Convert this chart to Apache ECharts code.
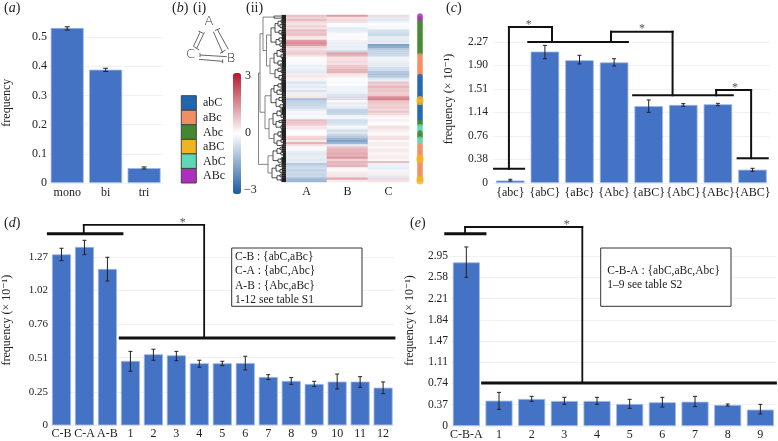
<!DOCTYPE html>
<html><head><meta charset="utf-8">
<style>html,body{margin:0;padding:0;background:#fff}#c{width:778px;height:441px}</style>
<script src="https://cdn.jsdelivr.net/npm/echarts@6/dist/echarts.min.js"></script>
</head><body><div id="c"></div>
<script>
const SERIF='"Liberation Serif","DejaVu Serif",serif';
// ---- panel a
const aCats=['mono','bi','tri'];
const aVals=[0.531,0.388,0.051];
const aLow=[0.524,0.382,0.048];
const aHigh=[0.535,0.393,0.055];
const aTicks=[0,0.1,0.2,0.3,0.4,0.5];
// ---- panel c
const cCats=['{abc}','{abC}','{aBc}','{Abc}','{aBC}','{AbC}','{ABc}','{ABC}'];
const cVals=[0.04,2.12,1.98,1.945,1.24,1.26,1.27,0.215];
const cLow=[0.032,2.005,1.92,1.887,1.14,1.237,1.247,0.189];
const cHigh=[0.06,2.22,2.06,2.005,1.34,1.28,1.285,0.237];
const cTicks=[0,0.38,0.76,1.14,1.51,1.90,2.27];
const cBrackets=[
 [[-.47,.23],[.40,.23]],
 [[-.04,.23],[-.04,2.516],[1.205,2.516],[1.205,2.274]],
 [[.52,2.274],[3.40,2.274]],
 [[2.91,2.274],[2.91,2.44],[4.69,2.44],[4.69,1.415]],
 [[3.55,1.415],[6.43,1.415]],
 [[5.95,1.415],[5.95,1.50],[6.96,1.50],[6.96,.40]],
 [[6.57,.40],[7.44,.40]]
];
// ---- panel d
const dCats=['C-B','C-A','A-B','1','2','3','4','5','6','7','8','9','10','11','12'];
const dVals=[1.29,1.346,1.18,.486,.536,.528,.468,.468,.47,.365,.335,.312,.33,.33,.284];
const dLow=[1.243,1.288,1.089,.408,.491,.488,.438,.45,.418,.345,.309,.292,.274,.287,.239];
const dHigh=[1.336,1.396,1.268,.558,.574,.558,.491,.483,.521,.382,.36,.332,.387,.367,.327];
const dTicks=[0,0.25,0.51,0.76,1.02,1.27];
const dThick=[[[-.57,1.446],[2.63,1.446]],[[2.56,.659],[14.47,.659]]];
const dThin=[[[.97,1.446],[.97,1.512],[6.21,1.512],[6.21,.659]]];
// ---- panel e
const eCats=['C-B-A','1','2','3','4','5','6','7','8','9'];
const eVals=[2.84,.44,.469,.434,.434,.382,.411,.422,.365,.284];
const eLow=[2.581,.289,.428,.376,.376,.307,.33,.336,.347,.208];
const eHigh=[3.108,.584,.515,.498,.498,.463,.498,.515,.382,.376];
const eTicks=[0,.37,.74,1.11,1.47,1.84,2.21,2.58,2.95];
const eThick=[[[-.63,3.339],[.57,3.339]],[[.50,.747],[9.46,.747]]];
const eThin=[[[-.04,3.339],[-.04,3.455],[3.55,3.455],[3.55,.747]]];
// ---- panel b heat map
const heatCols=['A','B','C'];
const heatA=[.8,.6,.85,.5,.35,.6,.4,.85,.7,.85,.35,.25,1.3,1.5,1.3,.6,.4,.6,.7,.4,.1,-.05,-.1,-.1,-.25,-.2,-.3,-.4,.25,.35,.15,-.2,-.5,-.25,-.4,-.2,-.5,-.25,.25,.35,-1.2,-.85,-.75,-.7,-.6,-.35,-.15,-.2,-.1,-.15,.85,.75,.7,.3,.35,-.1,0,.05,.5,.6,.25,1.0,.4,.1,-.1,-.3,-.4,-.35,-.3,-.4,-.35,-.95,-.75,-.6,-.85,-.7,-.75,-.7,-1.2,-1.3];
const heatB=[1.3,.4,.5,.4,0,-.1,-.35,-.35,-.2,.05,.1,.05,-.2,-.3,-.25,-.3,-.25,-.7,1.2,.95,.4,.4,.5,.4,.7,.75,.95,1.0,.35,.25,.05,-.05,-.1,-.05,-.2,-.2,-.2,-.25,-.5,-.6,.5,-.1,-.35,-.2,-.35,-.75,-.85,-.7,-.2,-.15,-.6,-.6,-.5,-.1,-.2,-.6,-.4,-.7,-.95,-1.35,-1.7,-1.3,-.35,.75,1.0,.95,1.1,1.0,1.35,.6,.95,.85,1.0,.1,.05,.25,.3,.35,1.1,.25];
const heatC=[.5,-.35,-.4,-.2,-.05,-.1,-.1,-.5,-.6,-.7,-.35,-.35,-.4,-.35,-1.7,-1.5,-.95,-.75,-.75,-.7,-.2,-.2,-.25,-.35,-.35,-.6,-.6,-1.0,-1.1,-1.0,-.5,-.25,.75,.6,.95,.7,.75,.6,.7,1.5,1.7,.75,.7,.6,.7,.5,.75,.5,.2,.1,.2,.1,0,.4,.35,.25,.1,.1,.4,.4,.1,.25,.25,-.1,.25,.25,.1,.2,.25,.1,.85,-.25,-.25,-.35,-.2,.2,-.2,-.4,.5,.4];
const legendNames=['abC','aBc','Abc','aBC','AbC','ABc'];
const legendColors=['#2166ac','#f28e63','#43882f','#f0b323','#5ed9b5','#ab2fbb'];
const sideGroups=['ABc','Abc','aBc','abC','aBC','abC','Abc','AbC','Abc','AbC','aBc','aBC','aBc','aBC'];
const sideCounts=[3,16,10,11,2,9,2,3,3,3,6,2,8,2];
const dendroTree=[27.5,
 [26,
  [23,[12,1,1],
   [19.5,
    [15,[11,[8,[5,1,1],[6,1,[4,1,1]]],[7,1,[5,1,1]]],[10,[7,[4,1,1],1],[6,1,[4,1,1]]]],
    [16,[12,[9,[6,1,1],[5,[3,1,1],1]],[8,[4,1,1],[6,1,1]]],[11,[8,1,[5,1,1]],[7,[4,1,1],[5,1,1]]]]]],
  [21,
   [15,[12,[8,[5,1,1],1],[9,[6,1,1],[4,1,1]]],[10,[7,1,[4,1,1]],[6,[3,1,1],1]]],
   [17,[13,[9,[6,1,1],[5,1,[3,1,1]]],[10,[7,1,1],[5,[4,1,1],1]]],[12,[8,[5,1,1],[6,1,1]],[9,[5,1,[3,1,1]],1]]]]],
 [18,[13,[9,[6,1,1],[5,1,[3,1,1]]],[8,[5,1,1],1]],[14,[10,[7,1,1],[6,[4,1,1],1]],[9,[6,1,1],[5,1,1]]]]
];
const triangleLines=[[600,97,580,140],[595,93,610,100],[613,97,590,145],[582,140,597,150],
 [640,95,668,158],[660,160,677,150],[653,90,685,148],[645,92,660,85],
 [600,165,680,170],[600,160,600,171],[597,178,668,184],[668,178,668,190]];

const grid=[],xAxis=[],yAxis=[],series=[],graphic=[];
const BAR='#4472c4';
function segs(paths,lw){const o=[];paths.forEach(p=>{for(let i=0;i<p.length-1;i++)o.push([p[i][0],p[i][1],p[i+1][0],p[i+1][1],lw]);});return o;}
function segRender(color){return function(params,api){
  const a=api.coord([api.value(0),api.value(1)]),b=api.coord([api.value(2),api.value(3)]);
  return {type:'line',shape:{x1:a[0],y1:a[1],x2:b[0],y2:b[1]},style:{stroke:color(api.value(4)),lineWidth:api.value(4),lineCap:'square'}};
};}
function panel(o){
  const g=grid.length, n=o.cats.length;
  grid.push({left:o.left,top:o.top,width:o.width,height:o.height});
  xAxis.push({gridIndex:g,type:'category',data:o.cats,axisLine:{show:false},axisTick:{show:false},
    axisLabel:{interval:0,margin:o.xm||5,fontFamily:SERIF,fontSize:o.xfs||12,color:'#222'}});
  const xo=xAxis.length;
  xAxis.push({gridIndex:g,type:'value',min:-.5,max:n-.5,show:false});
  const yi=yAxis.length;
  yAxis.push({gridIndex:g,type:'value',min:0,max:o.max,name:o.name,nameLocation:'middle',nameGap:o.nameGap,
    nameTextStyle:{fontFamily:SERIF,fontSize:12,color:'#222'},
    axisLine:{show:false},
    axisTick:{show:false,customValues:o.ticks},
    splitLine:{lineStyle:{color:'#f1f1f1',width:1}},
    axisLabel:{customValues:o.ticks,margin:o.ym,padding:[0,0,4,0],fontFamily:SERIF,fontSize:o.yfs||11.5,color:'#222',
      formatter:v=>v===0?'0':v.toFixed(o.dec||2)}});
  series.push({type:'bar',xAxisIndex:xo-1,yAxisIndex:yi,data:o.vals,barWidth:o.barW,silent:true,
    itemStyle:{color:BAR,borderColor:'#9db6e4',borderWidth:.8}});
  series.push({type:'custom',xAxisIndex:xo-1,yAxisIndex:yi,silent:true,z:5,
    data:o.low.map((l,i)=>[i,l,o.high[i]]),encode:{x:0,y:[1,2]},
    renderItem(params,api){
      const lo=api.coord([api.value(0),api.value(1)]),hi=api.coord([api.value(0),api.value(2)]);
      const x=lo[0],w=o.cap||2;const st={stroke:'#222',lineWidth:1};
      return {type:'group',children:[
       {type:'line',shape:{x1:x,y1:lo[1],x2:x,y2:hi[1]},style:st},
       {type:'line',shape:{x1:x-w,y1:lo[1],x2:x+w,y2:lo[1]},style:st},
       {type:'line',shape:{x1:x-w,y1:hi[1],x2:x+w,y2:hi[1]},style:st}]};
    }});
  if(o.brackets){
    series.push({type:'custom',xAxisIndex:xo,yAxisIndex:yi,silent:true,z:6,clip:false,
      data:o.brackets,encode:{x:[0,2],y:[1,3]},renderItem:segRender(()=>'#111')});
  }
}
panel({cats:aCats,vals:aVals,low:aLow,high:aHigh,ticks:aTicks,left:42.3,top:22.4,width:121,height:160.6,max:.55,barW:33,
  name:'frequency',nameGap:35,ym:1,dec:1,yfs:12,cap:2.5,xm:4});
panel({cats:cCats,vals:cVals,low:cLow,high:cHigh,ticks:cTicks,left:493,top:15,width:276.8,height:168,max:2.71,barW:28.5,
  name:'frequency (× 10⁻¹)',nameGap:38,ym:5,cap:2,brackets:segs(cBrackets,2),xm:4});
panel({cats:dCats,vals:dVals,low:dLow,high:dHigh,ticks:dTicks,left:46.6,top:215,width:348,height:210.3,max:1.587,barW:19,
  name:'frequency (× 10⁻¹)',nameGap:37,ym:2,yfs:11,cap:2,brackets:segs(dThick,3).concat(segs(dThin,1.8)),xm:3});
panel({cats:eCats,vals:eVals,low:eLow,high:eHigh,ticks:eTicks,left:450,top:215,width:326.7,height:211,max:3.663,barW:27,
  name:'frequency (× 10⁻¹)',nameGap:34,ym:2,cap:2,brackets:segs(eThick,3).concat(segs(eThin,1.8)),xm:3});

// heat map
const rows=heatA.map((_,i)=>String(i));
const hg=grid.length;
grid.push({left:286,top:15,width:123,height:167});
xAxis.push({gridIndex:hg,type:'category',data:heatCols,axisLine:{show:false},axisTick:{show:false},splitLine:{show:false},
  axisLabel:{margin:4,fontFamily:SERIF,fontSize:12,color:'#222'}});
const hy=yAxis.length;
yAxis.push({gridIndex:hg,type:'category',data:rows,inverse:true,show:false});
const heatData=[];
[heatA,heatB,heatC].forEach((col,c)=>col.forEach((v,r)=>heatData.push([c,r,v])));
const heatIdx=series.length;
series.push({type:'heatmap',xAxisIndex:xAxis.length-1,yAxisIndex:hy,data:heatData,silent:true,emphasis:{disabled:true},progressive:0});

// dendrogram
let leaf=0;const dStems=[],dLeaves=[];
const SOLID=4.5;
function layout(node){
  if(node===1){const y=leaf++;return {y,leaf:true};}
  const a=layout(node[1]),b=layout(node[2]);
  [a,b].forEach(k=>{
    if(k.leaf){
      if(node[0]>SOLID)dStems.push([node[0],k.y,SOLID,k.y,.8]);
      dLeaves.push([Math.min(node[0],SOLID),k.y,0,k.y,2.3]);
    }
    else{dStems.push([node[0],k.y,k.h,k.y,.8]);}
  });
  dStems.push([node[0],a.y,node[0],b.y,.8]);
  return {y:(a.y+b.y)/2,h:node[0]};
}
layout(dendroTree);
const dg=grid.length;
grid.push({left:257,top:15,width:29,height:167});
xAxis.push({gridIndex:dg,type:'value',min:0,max:29,inverse:true,show:false});
yAxis.push({gridIndex:dg,type:'value',min:-.5,max:leaf-.5,inverse:true,show:false});
series.push({type:'custom',xAxisIndex:xAxis.length-1,yAxisIndex:yAxis.length-1,silent:true,clip:false,
  data:dStems.concat(dLeaves),encode:{x:[0,2],y:[1,3]},
  renderItem(p,api){
    const a=api.coord([api.value(0),api.value(1)]),b=api.coord([api.value(2),api.value(3)]);const w=api.value(4);
    const dark=a[0]>270||w>1;
    return {type:'line',shape:{x1:a[0],y1:a[1],x2:b[0],y2:b[1]},style:{stroke:dark?'#222':'#666',lineWidth:w}};
  }});

// row annotation strip
const sideBase=[],sideTop=[];let ri=0;
sideGroups.forEach((g,i)=>{for(let k=0;k<sideCounts[i];k++){
  const item={value:[0,ri++],symbolSize:g==='aBC'?7:5.6,itemStyle:{color:legendColors[legendNames.indexOf(g)]}};
  (g==='aBC'?sideTop:sideBase).push(item);}});
const sg=grid.length;
grid.push({left:417,top:15,width:6,height:167});
xAxis.push({gridIndex:sg,type:'value',min:-.5,max:.5,show:false});
yAxis.push({gridIndex:sg,type:'value',min:-.5,max:ri-.5,inverse:true,show:false});
series.push({type:'scatter',xAxisIndex:xAxis.length-1,yAxisIndex:yAxis.length-1,data:sideBase.concat(sideTop),symbolSize:5.6,silent:true,clip:false});

// annotations
function plab(x,y,ch,it){
  graphic.push({type:'text',left:x,top:y-8,silent:true,style:{
    text:it?'{r|(}{i|'+ch+'}{r|)}':'('+ch+')',
    font:'14px '+SERIF,fill:'#222',
    rich:{r:{font:'14px '+SERIF,fill:'#222'},i:{font:'italic 14px '+SERIF,fill:'#222'}}}});
}
plab(4,9,'a',true);plab(172,9,'b',true);plab(193,9,'i',false);plab(246,9,'ii',false);plab(446,9,'c',true);plab(4,224,'d',true);plab(410,224,'e',true);
function txt(x,y,s,fs,extra){graphic.push({type:'text',x:x,y:y,silent:true,style:Object.assign({text:s,font:(fs||11.5)+'px '+SERIF,fill:'#222',verticalAlign:'middle',align:'left'},extra||{})});}
function star(x,y){txt(x,y,'*',12,{align:'center',fill:'#555'});}
star(528.7,25);star(642,29);star(735,88);star(182.7,223);star(566.7,225);
// boxes
function box(x1,y1,x2,y2){graphic.push({type:'rect',silent:true,shape:{x:x1,y:y1,width:x2-x1,height:y2-y1},style:{fill:'#fff',stroke:'#333',lineWidth:1},z:8});}
box(231.7,248,362,306.3);box(600.7,248,731,306.3);
const dBoxLines=['C-B : {abC,aBc}','C-A : {abC,Abc}','A-B : {Abc,aBc}','1-12 see table S1'];
const eBoxLines=['C-B-A : {abC,aBc,Abc}','1–9 see table S2'];
[257,271,285.7,300].forEach((y,i)=>graphic.push({type:'text',x:235,y:y,z:9,silent:true,style:{text:dBoxLines[i],font:'11.5px '+SERIF,fill:'#222',verticalAlign:'middle'}}));
[271.3,285.3].forEach((y,i)=>graphic.push({type:'text',x:607.3,y:y,z:9,silent:true,style:{text:eBoxLines[i],font:'11.5px '+SERIF,fill:'#222',verticalAlign:'middle'}}));
// legend
legendNames.forEach((n,i)=>{
  const y=95.7+i*14.55;
  graphic.push({type:'rect',silent:true,shape:{x:181.3,y:y,width:15,height:14.55},style:{fill:legendColors[i],stroke:'#444',lineWidth:1}});
  txt(203,y+7.6,n,12);
});
// colour-bar labels
txt(245,76,'3',12);txt(245,133,'0',12);txt(244,190,'−3',12);
// sketch
triangleLines.forEach(l=>graphic.push({type:'line',silent:true,shape:{x1:l[0]/3,y1:l[1]/3,x2:l[2]/3,y2:l[3]/3},style:{stroke:'#555',lineWidth:.9}}));
const SK='"DejaVu Sans",sans-serif';
[['A',209,22],['C',190.5,55],['B',231,59]].forEach(t=>graphic.push({type:'text',x:t[1],y:t[2],silent:true,style:{text:t[0],font:'300 13px '+SK,fill:'#333',align:'center',verticalAlign:'middle'}}));

const chart=echarts.init(document.getElementById('c'),null,{renderer:'canvas'});
chart.setOption({animation:false,backgroundColor:'#fff',tooltip:{show:false},
  grid,xAxis,yAxis,series,graphic,
  visualMap:{type:'continuous',seriesIndex:heatIdx,min:-3,max:3,left:233,top:73,itemWidth:8,itemHeight:121,
    text:null,showLabel:false,calculable:false,realtime:false,hoverLink:false,padding:0,
    inRange:{color:['#1d5a9e','#ffffff','#b2182b']}}
});
</script></body></html>
